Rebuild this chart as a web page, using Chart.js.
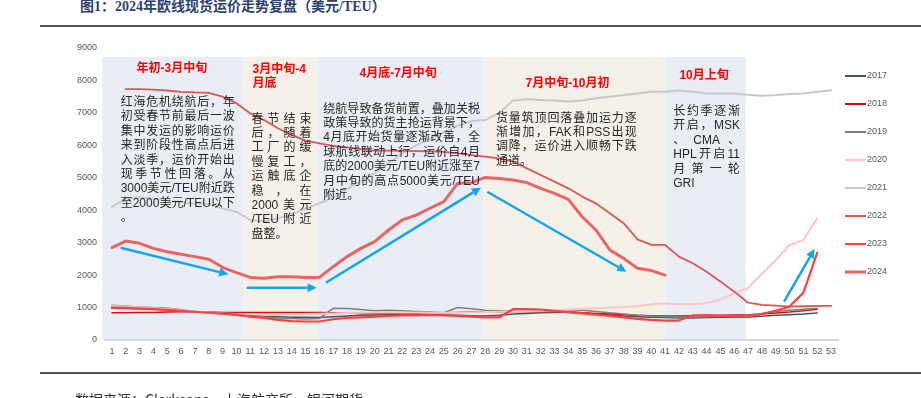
<!DOCTYPE html>
<html>
<head>
<meta charset="utf-8">
<script src="https://cdn.jsdelivr.net/npm/chart.js@4.4.1/dist/chart.umd.min.js"></script>
<style>
  html, body { margin: 0; padding: 0; background: #fff; }
  body { width: 921px; height: 398px; overflow: hidden; position: relative; }
  #wrap { position: absolute; left: 0; top: 0; width: 921px; height: 398px; }
  .title { position: absolute; left: 80px; top: -3px; font-size: 14px; line-height: 20px; color: #2b4272;
           font-family: "Liberation Serif", "Noto Sans CJK SC", serif; font-weight: bold; white-space: nowrap; }
  .rule { position: absolute; left: 40px; right: 0; height: 2px; background: #555; }
  .src { position: absolute; left: 75px; top: 391px; font-size: 14px; line-height: 16px; color: #333;
         font-family: "Noto Sans CJK SC", sans-serif; white-space: nowrap; }
</style>
</head>
<body>
<div class="title">图1：2024年欧线现货运价走势复盘（美元/TEU）</div>
<div class="rule" style="top:25px"></div>
<div id="wrap"><canvas id="freightChart"></canvas></div>
<div class="rule" style="top:372px;height:1.5px"></div>
<div class="src">数据来源：Clarksons，上海航交所，银河期货</div>

<script>
// week numbers on the x axis
const weeks = ["1","2","3","4","5","6","7","8","9","10","11","12","13","14","15","16","17","18","19","20",
  "21","22","23","24","25","26","27","28","29","30","31","32","33","34","35","36","37","38","39","40",
  "41","42","43","44","45","46","47","48","49","50","51","52","53"];

const yTicks = [0, 1000, 2000, 3000, 4000, 5000, 6000, 7000, 8000, 9000];

// weekly spot rates, USD/TEU
const y2017 = [980, 970, 960, 950, 930, 900, 870, 850, 820, 790,
  760, 740, 720, 700, 700, 690, 720, 740, 760, 770,
  780, 790, 790, 780, 770, 760, 750, 740, 760, 800,
  820, 840, 850, 860, 840, 800, 770, 740, 720, 700,
  690, 680, 680, 690, 700, 700, 710, 730, 760, 780,
  800, 830, null];

const y2018 = [840, 840, 845, 850, 860, 870, 870, 860, 850, 850,
  850, 850, 850, 850, 850, 850, 840, 830, 820, 820,
  820, 820, 820, 830, 840, 850, 860, 870, 870, 880,
  880, 880, 870, 860, 840, 820, 800, 780, 760, 750,
  740, 740, 750, 760, 760, 770, 780, 800, 830, 860,
  900, 950, null];

const y2019 = [1070, 1050, 1020, 1000, 990, 930, 880, 850, 800, 760,
  720, 700, 680, 660, 650, 660, 980, 970, 940, 900,
  920, 900, 880, 860, 840, 1000, 960, 920, 900, 880,
  880, 880, 880, 930, 920, 880, 840, 800, 760, 740,
  720, 700, 700, 720, 740, 740, 760, 820, 880, 920,
  950, 980, null];

const y2020 = [1050, 1030, 1000, 980, 960, 920, 880, 850, 820, 800,
  790, 780, 780, 790, 800, 810, 820, 830, 840, 850,
  850, 850, 850, 840, 840, 840, 850, 860, 870, 880,
  890, 900, 920, 940, 960, 980, 1000, 1020, 1050, 1100,
  1130, 1100, 1100, 1130, 1250, 1440, 1600, 2050, 2460, 2930,
  3080, 3750, null];

const y2021 = [4100, 4350, 4400, 4350, 4300, 4250, 4200, 4200, 4050, 3950,
  3700, 3650, 3750, 3880, 4050, 4210, 4400, 4650, 4900, 5150,
  5450, 5750, 6000, 6200, 6400, 6600, 6750, 6780, 7000, 7380,
  7420, 7400, 7380, 7350, 7380, 7450, 7500, 7550, 7600, 7650,
  7650, 7690, 7650, 7600, 7600, 7600, 7560, 7530, 7550, 7580,
  7600, 7650, 7700];

const y2022 = [null, 7730, 7730, 7720, 7690, 7650, 7630, 7620, 7500, 7300,
  6990, 6780, 6525, 6320, 6145, 6060, 5980, 5940, 5880, 5835,
  5835, 5830, 5820, 5815, 5800, 5750, 5700, 5650, 5600, 5500,
  5290, 5085, 4880, 4675, 4420, 4210, 3905, 3600, 3100, 2930,
  2930, 2570, 2365, 2105, 1800, 1490, 1150, 1080, 1060, 1030,
  1040, 1050, 1050];

const y2023 = [1000, 990, 970, 950, 930, 900, 870, 840, 810, 780,
  720, 680, 620, 580, 570, 570, 640, 680, 700, 720,
  740, 760, 760, 770, 760, 740, 720, 700, 700, 950,
  950, 940, 900, 860, 820, 780, 740, 700, 650, 620,
  600, 600, 760, 760, 740, 730, 720, 800, 900, 1030,
  1460, 2690, null];

const y2024 = [2850, 3050, 2980, 2825, 2720, 2640, 2570, 2490, 2240, 2075,
  1930, 1900, 1950, 1950, 1930, 1930, 2260, 2570, 2825, 3030,
  3390, 3700, 3850, 4060, 4265, 4830, 4850, 5010, 4980, 4930,
  4850, 4675, 4520, 4335, 3800, 3390, 2775, 2515, 2210, 2140,
  2000, null, null, null, null, null, null, null, null, null,
  null, null, null];

// shaded phases, in week units
const bandTop = 8720;
const bands = [
  { from: 0.28, to: 10.5, color: "#e9edf5" },
  { from: 10.5, to: 15.85, color: "#f5f1e8" },
  { from: 15.85, to: 27.85, color: "#e9edf5" },
  { from: 27.85, to: 41.05, color: "#f5f1e8" },
  { from: 41.05, to: 46.85, color: "#e9edf5" }
];

// arrows: [week, value] -> [week, value]
const arrows = [
  [1.63, 2845, 9.41, 2025],
  [10.74, 1610, 15.8, 1610],
  [16.47, 1765, 27.68, 4695],
  [28.14, 4570, 38.2, 2105],
  [49.6, 1180, 51.8, 2805]
];

const headings = [
  { text: "年初-3月中旬", w: 5.34, v: 8377, align: "center" },
  { text: "3月中旬-4", w: 11.17, v: 8346, align: "left", maxW: 58 },
  { text: "月底", w: 11.17, v: 7893, align: "left" },
  { text: "4月底-7月中旬", w: 21.7, v: 8201, align: "center" },
  { text: "7月中旬-10月初", w: 33.94, v: 7914, align: "center" },
  { text: "10月上旬", w: 43.82, v: 8140, align: "center" }
];

const notes = [
  { left: 1.63, right: 9.89, v: 7316, lines: ["红海危机绕航后，年", "初受春节前最后一波", "集中发运的影响运价",
    "来到阶段性高点后进", "入淡季，运价开始出", "现季节性回落。从", "3000美元/TEU附近跌", "至2000美元/TEU以下", "。"] },
  { left: 11.1, right: 15.44, v: 6804, lines: ["春节结束", "后，随着", "工厂的缓", "慢复工，", "运触底企",
    "稳，在", "2000美元", "/TEU附近", "盘整。"] },
  { left: 16.28, right: 27.61, v: 7112, lines: ["绕航导致备货前置，叠加关税", "政策导致的货主抢运背景下，",
    "4月底开始货量逐渐改善，全", "球航线联动上行，运价自4月", "底的2000美元/TEU附近涨至7",
    "月中旬的高点5000美元/TEU", "附近。"] },
  { left: 28.77, right: 38.94, v: 6835, lines: ["货量筑顶回落叠加运力逐", "渐增加，FAK和PSS出现",
    "调降，运价进入顺畅下跌", "通道。"] },
  { left: 41.59, right: 46.41, v: 7038, lines: ["长约季逐渐", "开启，MSK", "、CMA、", "HPL开启11", "月第一轮", "GRI"] }
];

const TEXT_FONT = '12px "Liberation Sans", "Noto Sans CJK SC", sans-serif';
const HEAD_FONT = 'bold 12px "Liberation Sans", "Noto Sans CJK SC", sans-serif';

function weekPx(x, w) {
  const p0 = x.getPixelForValue(0);
  const p1 = x.getPixelForValue(1);
  return p0 + (w - 1) * (p1 - p0);
}

function justifyLine(ctx, s, x0, x1, y, justify) {
  const parts = s.match(/[A-Za-z0-9\/]+|./g);
  if (!justify || parts.length < 2) {
    ctx.fillText(s, x0, y);
    return;
  }
  const widths = parts.map((p) => ctx.measureText(p).width);
  const total = widths.reduce((a, b) => a + b, 0);
  const gap = (x1 - x0 - total) / (parts.length - 1);
  let x = x0;
  parts.forEach((p, i) => {
    ctx.fillText(p, x, y);
    x += widths[i] + gap;
  });
}

function drawArrow(ctx, x0, y0, x1, y1) {
  const ang = Math.atan2(y1 - y0, x1 - x0);
  const head = 9;
  const bx = x1 - head * Math.cos(ang);
  const by = y1 - head * Math.sin(ang);
  ctx.beginPath();
  ctx.moveTo(x0, y0);
  ctx.lineTo(bx, by);
  ctx.stroke();
  ctx.beginPath();
  ctx.moveTo(x1, y1);
  ctx.lineTo(bx + 4.5 * Math.sin(ang), by - 4.5 * Math.cos(ang));
  ctx.lineTo(bx - 4.5 * Math.sin(ang), by + 4.5 * Math.cos(ang));
  ctx.closePath();
  ctx.fill();
}

const phasePlugin = {
  id: "phases",
  beforeDatasetsDraw(chart) {
    const { ctx, chartArea } = chart;
    const x = chart.scales.x;
    const y = chart.scales.y;
    const top = y.getPixelForValue(bandTop);
    ctx.save();
    bands.forEach((b) => {
      const l = weekPx(x, b.from);
      const r = weekPx(x, b.to);
      ctx.fillStyle = b.color;
      ctx.fillRect(l, top, r - l, chartArea.bottom - 1 - top);
    });
    ctx.restore();
  },
  afterDatasetsDraw(chart) {
    const { ctx } = chart;
    const x = chart.scales.x;
    const y = chart.scales.y;
    ctx.save();

    ctx.strokeStyle = "#14a5ea";
    ctx.fillStyle = "#14a5ea";
    ctx.lineWidth = 2.5;
    arrows.forEach((a) => {
      drawArrow(ctx, weekPx(x, a[0]), y.getPixelForValue(a[1]), weekPx(x, a[2]), y.getPixelForValue(a[3]));
    });

    ctx.fillStyle = "#ff0000";
    ctx.font = HEAD_FONT;
    ctx.textBaseline = "middle";
    headings.forEach((h) => {
      ctx.textAlign = h.align;
      if (h.maxW) ctx.fillText(h.text, weekPx(x, h.w), y.getPixelForValue(h.v), h.maxW);
      else ctx.fillText(h.text, weekPx(x, h.w), y.getPixelForValue(h.v));
    });

    ctx.fillStyle = "#262626";
    ctx.font = TEXT_FONT;
    ctx.textAlign = "left";
    notes.forEach((n) => {
      const l = weekPx(x, n.left);
      const r = weekPx(x, n.right);
      const y0 = y.getPixelForValue(n.v);
      n.lines.forEach((line, i) => {
        justifyLine(ctx, line, l, r, y0 + i * 14.4, i < n.lines.length - 1);
      });
    });

    // legend
    ctx.font = '9px "Liberation Sans", Arial, sans-serif';
    ctx.textBaseline = "middle";
    chart.data.datasets.forEach((ds, i) => {
      const ly = 76 + i * 28;
      ctx.strokeStyle = ds.borderColor;
      ctx.lineWidth = ds.borderWidth > 2.5 ? 3 : 2;
      ctx.beginPath();
      ctx.moveTo(845, ly);
      ctx.lineTo(866, ly);
      ctx.stroke();
      ctx.fillStyle = "#595959";
      ctx.fillText(ds.label, 867, ly);
    });
    ctx.restore();
  }
};

function series(label, data, color, width, order) {
  return {
    label, data,
    borderColor: color,
    backgroundColor: color,
    borderWidth: width,
    pointRadius: 0,
    pointHoverRadius: 0,
    tension: 0,
    fill: false,
    borderJoinStyle: "round",
    borderCapStyle: "round",
    order
  };
}

Chart.defaults.font.family = '"Liberation Sans", Arial, sans-serif';
Chart.defaults.font.size = 9;
Chart.defaults.color = "#595959";

new Chart(document.getElementById("freightChart"), {
  type: "line",
  data: {
    labels: weeks,
    datasets: [
      series("2017", y2017, "#44546a", 1.5, 7),
      series("2018", y2018, "#d40f0f", 1.5, 6),
      series("2019", y2019, "#7f7f7f", 1.5, 5),
      series("2020", y2020, "#ffc4c4", 2, 4),
      series("2021", y2021, "#c9c9c9", 2, 3),
      series("2022", y2022, "#de5656", 1.8, 2),
      series("2023", y2023, "#ff4040", 2.2, 1),
      series("2024", y2024, "#ec6461", 3, 0)
    ]
  },
  options: {
    responsive: true,
    maintainAspectRatio: false,
    animation: false,
    devicePixelRatio: 1,
    layout: { padding: { left: 40, right: 83, top: 48, bottom: 38 } },
    plugins: {
      legend: { display: false },
      tooltip: { enabled: false }
    },
    scales: {
      x: {
        offset: true,
        grid: { display: false, drawTicks: false },
        border: { display: true, color: "#d9d9d9", width: 2 },
        ticks: { autoSkip: false, maxRotation: 0, padding: 6 },
        afterFit: (s) => { s.height = 20; }
      },
      y: {
        min: 0,
        max: 9000,
        grid: { display: false, drawTicks: false },
        border: { display: false },
        ticks: { stepSize: 1000, padding: 8, callback: (v) => String(v) },
        afterBuildTicks: (s) => { s.ticks = yTicks.map((v) => ({ value: v })); },
        afterFit: (s) => { s.width = 65; }
      }
    }
  },
  plugins: [phasePlugin]
});
</script>
</body>
</html>
